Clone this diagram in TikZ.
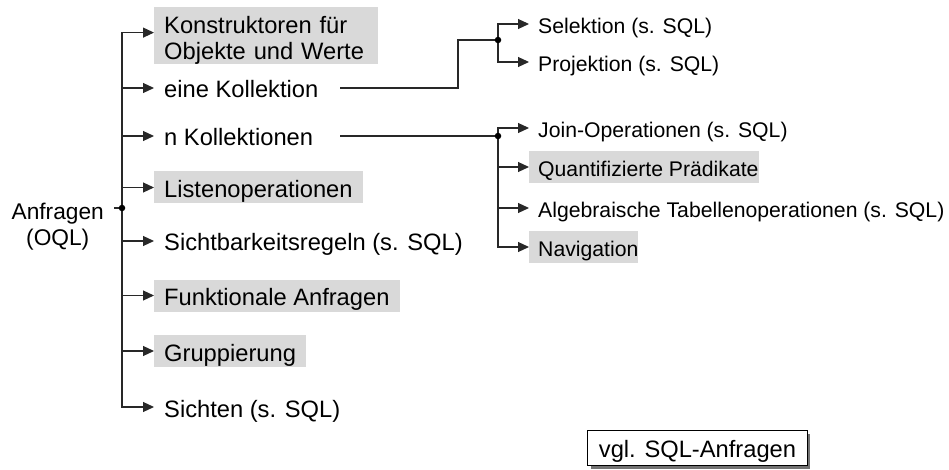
\documentclass[tikz,border=0pt]{standalone}
\usepackage{fontspec}
\setmainfont{Liberation Sans}
\usetikzlibrary{arrows.meta,shadows}
\definecolor{boxgray}{RGB}{217,217,217}
\definecolor{wiregray}{RGB}{40,40,40}

\begin{document}
\begin{tikzpicture}[x=1pt,y=-1pt,
  wire/.style={draw=wiregray, line width=1.1pt},
  arr/.style={wire, -{Triangle[length=11pt,width=10pt]}},
  hubdot/.style={circle, fill=black, inner sep=0pt, minimum size=6.5pt},
  bigtext/.style={font=\fontsize{23.7}{26}\selectfont},
  smalltext/.style={font=\fontsize{21.2}{24}\selectfont},
  item/.style={bigtext, anchor=west, inner xsep=10pt, inner ysep=0pt,
    text height=26pt, text depth=6pt},
  subitem/.style={smalltext, anchor=west, inner xsep=9pt, inner ysep=0pt,
    text height=25.5pt, text depth=6.5pt},
  marked/.style={fill=boxgray},
]
\useasboundingbox (0,0) rectangle (949,470);

% root
\node[font=\fontsize{22.7}{26}\selectfont, align=center, anchor=east,
  inner xsep=10pt, inner ysep=0pt] (anfr) at (114,226.8)
  {\strut Anfragen\\\strut (OQL)};
\coordinate (hub) at (122,208);

% first level
\node[bigtext, marked, anchor=north west, inner xsep=10pt, inner ysep=0pt,
  text width=204pt, align=left] (konst) at (154,7)
  {\rule{0pt}{26.3pt}Konstruktoren für\\Objekte und Werte\rule[-4pt]{0pt}{4pt}};
\node[item] (eine) at (154,88) {eine Kollektion};
\node[item] (nkoll) at (154,136) {n Kollektionen};
\node[item, marked] (liste) at (154,187.5) {Listenoperationen};
\node[item] (sicht) at (154,241) {Sichtbarkeitsregeln (s. SQL)};
\node[item, marked] (funk) at (154,295.5) {Funktionale Anfragen};
\node[item, marked] (grupp) at (154,351) {Gruppierung};
\node[item] (sichten) at (154,407) {Sichten (s. SQL)};

% second level
\coordinate (hubA) at (498,40);
\coordinate (hubB) at (498,136);
\coordinate (lx) at (340,0);
\node[subitem] (sel) at (529,24) {Selektion (s. SQL)};
\node[subitem] (proj) at (529,62) {Projektion (s. SQL)};
\node[subitem] (join) at (529,128) {Join-Operationen (s. SQL)};
\node[subitem, marked, inner xsep=0pt] (quant) at (529,167)
  {\hspace{9pt}Quantifizierte Prädikate\hspace{12pt}};
\node[subitem] (alg) at (529,208) {Algebraische Tabellenoperationen (s. SQL)};
\node[subitem, marked, inner xsep=0pt] (nav) at (529,247)
  {\hspace{9pt}Navigation\hspace{12pt}};

% note box
\node[bigtext, draw=black, line width=0.9pt, fill=white,
  drop shadow={shadow xshift=3pt, shadow yshift=-3pt, fill=black!55, opacity=1},
  inner xsep=11pt, inner ysep=0pt, text height=26.8pt, text depth=8.2pt]
  (vgl) at (697.5,448.4) {vgl. SQL-Anfragen};

% connectors of the root
\draw[wire] (anfr.east |- hub) -- (hub);
\draw[arr] (hub) |- ([yshift=3.2pt]konst.west);
\foreach \n in {eine,nkoll,liste,sicht,funk,grupp,sichten}
  \draw[arr] (hub) |- (\n.west);

% connectors to the second level
\draw[wire] (eine.east -| lx) -- ++(118,0) |- (hubA);
\draw[wire] (nkoll.east -| lx) -- (hubB);
\foreach \n in {sel,proj}
  \draw[arr] (hubA) |- (\n.west);
\foreach \n in {join,quant,alg,nav}
  \draw[arr] (hubB) |- (\n.west);

% junction dots
\node[hubdot] at (hub) {};
\node[hubdot] at (hubA) {};
\node[hubdot] at (hubB) {};
\end{tikzpicture}
\end{document}
